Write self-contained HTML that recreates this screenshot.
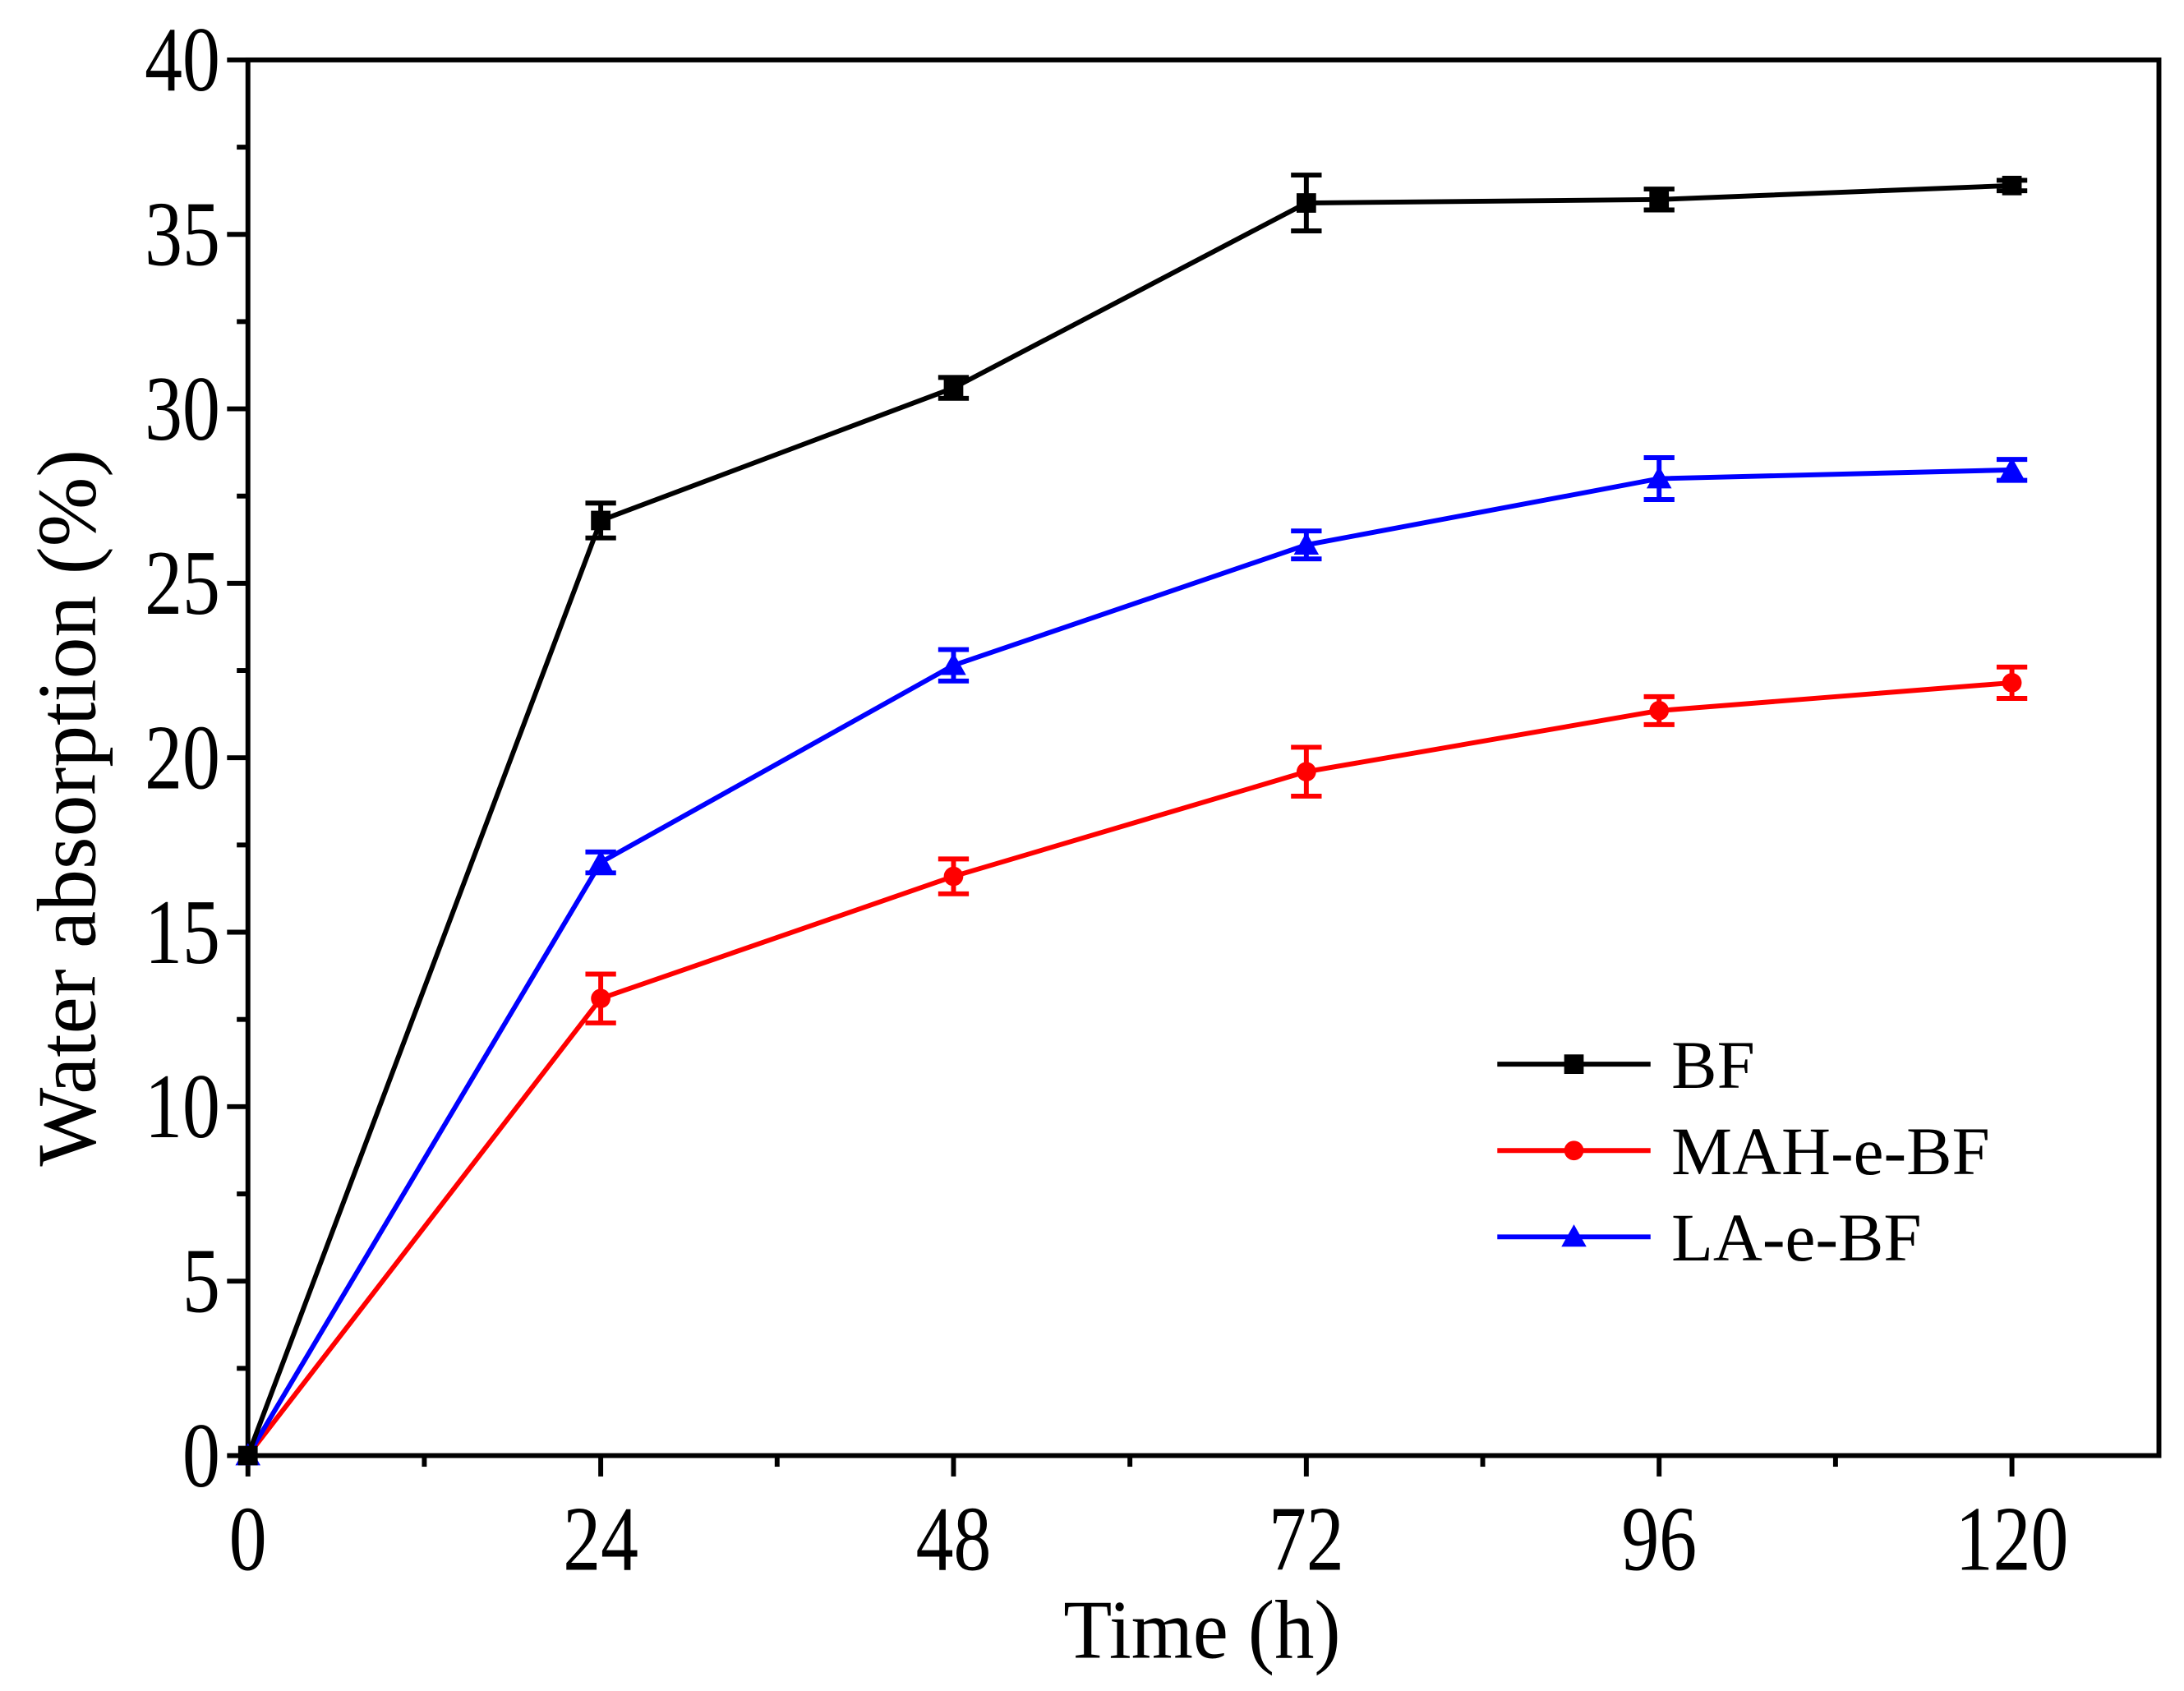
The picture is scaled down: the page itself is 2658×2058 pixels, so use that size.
<!DOCTYPE html>
<html><head><meta charset="utf-8"><style>
html,body{margin:0;padding:0;background:#fff;}
svg{display:block;font-family:"Liberation Serif",serif;}
</style></head><body>
<svg id="chart" width="2658" height="2058" viewBox="0 0 1568 1214" xmlns="http://www.w3.org/2000/svg">
<rect width="1568" height="1214" fill="#fff"/>
</svg>
<script>
const times = [0, 24, 48, 72, 96, 120];
const bfValues = [0, 26.8, 30.6, 35.9, 36.0, 36.4];
const bfErrors = [0, 0.5, 0.3, 0.8, 0.3, 0.15];
const mahValues = [0, 13.1, 16.6, 19.6, 21.35, 22.15];
const mahErrors = [0, 0.7, 0.5, 0.7, 0.4, 0.45];
const laValues = [0, 17.0, 22.65, 26.1, 28.0, 28.25];
const laErrors = [0, 0.3, 0.45, 0.4, 0.6, 0.3];
const xTicks = [0, 24, 48, 72, 96, 120];
const yTicks = [0, 5, 10, 15, 20, 25, 30, 35, 40];

const L=178,R=1550,T=43,B=1045;
const xMax=130, yMax=40;
const X=v=>L+(v/xMax)*(R-L);
const Y=v=>B-(v/yMax)*(B-T);
const svg=document.getElementById('chart');
const NS='http://www.w3.org/2000/svg';
function mk(tag,attrs,parent){const e=document.createElementNS(NS,tag);for(const k in attrs)e.setAttribute(k,attrs[k]);(parent||svg).appendChild(e);return e;}
function label(txt,x,y,anchor,size,sx){
  const t=mk('text',{x:0,y:0,'text-anchor':anchor,'font-size':size,transform:`translate(${x},${y}) scale(${sx},1)`});
  t.textContent=txt;return t;
}

const frame=mk('rect',{x:L,y:T,width:R-L,height:B-T,fill:'none',stroke:'#000','stroke-width':3.5});



yTicks.forEach(v=>{
  const t=mk('line',{x1:L-15,x2:L,y1:Y(v),y2:Y(v),stroke:'#000','stroke-width':3.5});
  
  
  const lb=label(v,L-20,Y(v)+22,'end',66,0.82);
  
  
  if(v<yMax){
    const m=mk('line',{x1:L-8,x2:L,y1:Y(v+2.5),y2:Y(v+2.5),stroke:'#000','stroke-width':3.5});
    
    
  }
});
xTicks.forEach(v=>{
  const t=mk('line',{x1:X(v),x2:X(v),y1:B,y2:B+15,stroke:'#000','stroke-width':3.5});
  
  
  const lb=label(v,X(v),B+82,'middle',66,0.82);
  
  
  if(v+12<xMax){
    const m=mk('line',{x1:X(v+12),x2:X(v+12),y1:B,y2:B+8,stroke:'#000','stroke-width':3.5});
    
    
  }
});
const xt=label('Time (h)',(L+R)/2-1,1190,'middle',60,0.95);


const yt=mk('text',{x:0,y:0,'text-anchor':'middle','font-size':60,transform:'translate(68,580) rotate(-90)'});
yt.textContent='Water absorption (%)';



function marker(shape,cx,cy,color,parent){
  if(shape==='square') return mk('rect',{x:cx-7,y:cy-7,width:14,height:14,fill:color},parent);
  if(shape==='circle') return mk('circle',{cx:cx,cy:cy,r:7,fill:color},parent);
  return mk('polygon',{points:`${cx},${cy-9} ${cx-9},${cy+7} ${cx+9},${cy+7}`,fill:color},parent);
}
function series(name,vals,errs,color,shape){
  const g=mk('g',{});
  
  
  const pl=mk('polyline',{points:vals.map((v,i)=>X(times[i])+','+Y(v)).join(' '),fill:'none',stroke:color,'stroke-width':3.5},g);
  
  
  vals.forEach((v,i)=>{
    const x=X(times[i]);
    if(errs[i]>0){
      const e=mk('path',{d:`M${x},${Y(v+errs[i])}V${Y(v-errs[i])}M${x-11},${Y(v+errs[i])}H${x+11}M${x-11},${Y(v-errs[i])}H${x+11}`,stroke:color,'stroke-width':3.5,fill:'none'},g);
      
      
    }
    const m=marker(shape,x,Y(v),color,g);
    
    
  });
}
series('mah-e-bf',mahValues,mahErrors,'#ff0000','circle');
series('la-e-bf',laValues,laErrors,'#0000ff','triangle');
series('bf',bfValues,bfErrors,'#000000','square');

const legend=[['BF','#000000','square',764],['MAH-e-BF','#ff0000','circle',826],['LA-e-BF','#0000ff','triangle',888]];
const lg=mk('g',{});


legend.forEach(([n,c,s,y])=>{
  const ln=mk('line',{x1:1075,x2:1185,y1:y,y2:y,stroke:c,'stroke-width':3.5},lg);
  
  
  const m=marker(s,1130,y,c,lg);
  
  
  const t=mk('text',{x:1200,y:y+17,'font-size':49},lg);
  t.textContent=n;
  
  
});
</script>
</body></html>
